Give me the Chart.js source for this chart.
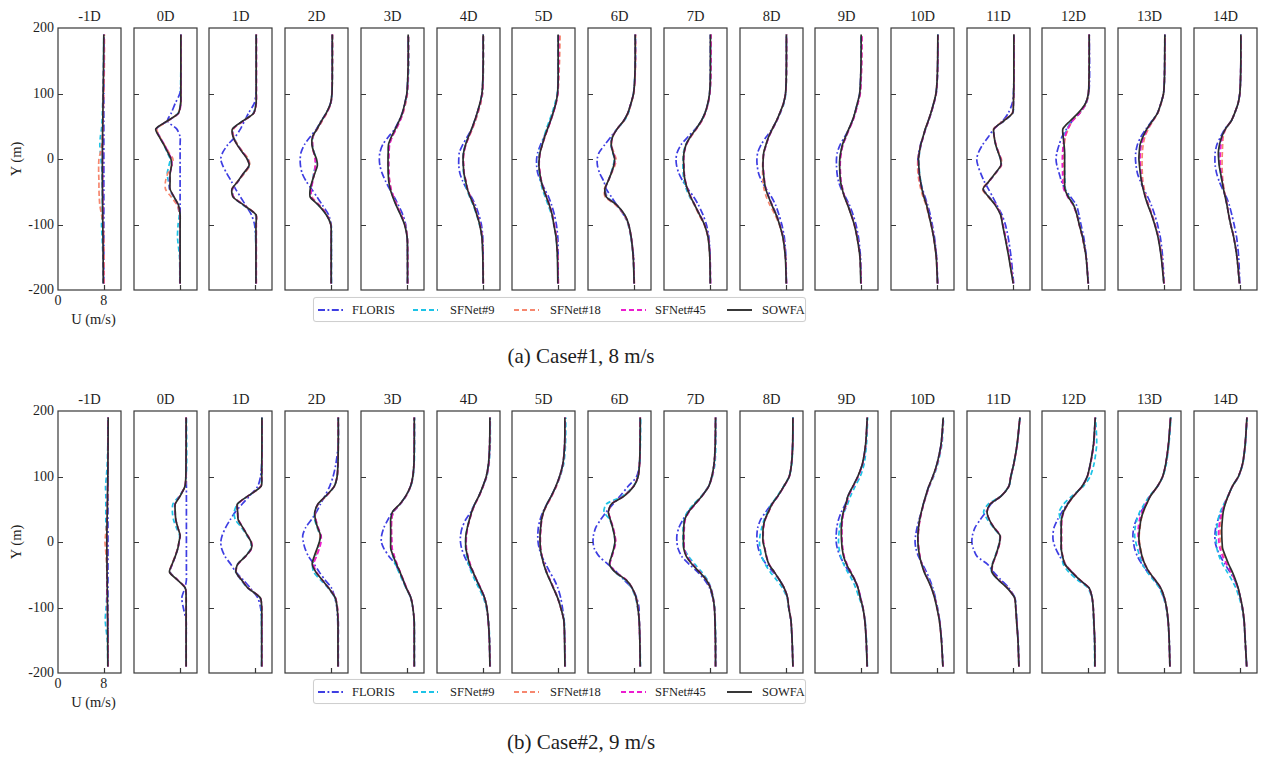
<!DOCTYPE html>
<html>
<head>
<meta charset="utf-8">
<title>Wake velocity profiles</title>
<script src="https://cdn.jsdelivr.net/npm/chart.js@4.4.1/dist/chart.umd.min.js"></script>
<style>
  html, body { margin: 0; padding: 0; background: #fff; }
  body { position: relative; width: 1261px; height: 759px; overflow: hidden;
         font-family: "Liberation Serif", "Times New Roman", serif; color: #1e1e1e; }
  canvas.panel { position: absolute; }
  .lbl { position: absolute; white-space: nowrap; line-height: 1; }
  .legend { position: absolute; box-sizing: border-box; border: 1px solid #cfcfcf; border-radius: 3px;
            background: #fff; box-shadow: 0 0 1px rgba(0,0,0,0.08); }
  .legend svg { position: absolute; }
  .legend span { position: absolute; font-size: 12.5px; line-height: 1; transform: translateY(-50%); }
</style>
</head>
<body>
<script>
// Lateral sample positions (m), shared by every profile
const Y_POS = [-190,-150,-120,-100,-85,-70,-58,-46,-34,-22,-10,0,10,22,34,46,58,70,85,100,120,150,190];

const STATIONS = ['-1D','0D','1D','2D','3D','4D','5D','6D','7D','8D','9D','10D','11D','12D','13D','14D'];
const SERIES_NAMES = ['FLORIS','SFNet#9','SFNet#18','SFNet#45','SOWFA'];
const CASE_TITLES = ['(a) Case#1, 8 m/s', '(b) Case#2, 9 m/s'];
const Y_TICKS = [-200,-100,0,100,200];
const X_TICKS = [0,8];

// ---- Case#1, 8 m/s : streamwise velocity U (m/s), one row per station ----
const c1_FLORIS = [
  [8,8,8,8,8,8,8,8,8,8,8,8,8,8,8,8,8,8,8,8,8,8,8],
  [8.05,8.05,8.05,8.05,8.05,8.05,8.05,8.05,8.05,8.05,8.05,8.05,8.05,8.05,8.05,7.45,5.85,6.5,7.2,8.0,8.2,8.2,8.2],
  [8.2,8.2,8.15,7.95,7.4,6.35,5.5,4.65,3.9,3.1,2.4,2.05,2.4,3.3,4.6,5.5,6.2,6.9,7.9,8.2,8.24,8.24,8.24],
  [8.1,8.1,8.1,8.05,7.6,6.5,5.6,4.65,3.7,3.0,2.7,2.65,2.8,3.4,4.4,5.5,6.3,7.2,7.95,8.2,8.25,8.25,8.25],
  [8.12,8.12,8.06,7.8,7.3,6.5,5.8,5.0,4.3,3.7,3.3,3.2,3.3,3.8,4.8,5.9,6.6,7.2,7.65,8.0,8.15,8.24,8.24],
  [8.06,8.06,8.0,7.75,7.3,6.7,6.0,5.2,4.5,4.0,3.8,3.8,3.9,4.5,5.3,6.05,6.55,7.0,7.5,7.85,8.0,8.06,8.06],
  [8.06,8.06,8.0,7.75,7.4,6.9,6.4,5.7,5.0,4.5,4.3,4.3,4.5,5.0,5.6,6.2,6.7,7.15,7.65,7.95,8.05,8.06,8.06],
  [8.06,7.95,7.55,7.05,6.2,5.0,4.1,3.2,2.75,2.05,1.65,1.6,1.95,2.95,4.0,5.1,6.2,6.95,7.5,7.95,8.15,8.24,8.24],
  [8.1,8.05,7.85,7.4,6.8,6.0,5.2,4.2,3.3,2.6,2.2,2.1,2.3,3.0,4.2,5.5,6.5,7.15,7.65,7.95,8.08,8.1,8.1],
  [8.1,8.02,7.75,7.3,6.8,6.2,5.5,4.6,3.8,3.25,3.0,2.95,3.1,3.7,4.6,5.6,6.35,6.95,7.6,7.95,8.06,8.1,8.1],
  [8.06,7.95,7.6,7.15,6.65,6.0,5.3,4.6,4.1,3.85,3.75,3.75,3.9,4.4,5.2,5.9,6.5,6.95,7.4,7.8,7.95,8.04,8.06],
  [8.15,7.95,7.6,7.2,6.85,6.4,5.95,5.5,5.15,4.9,4.75,4.7,4.85,5.15,5.6,6.0,6.5,6.95,7.45,7.85,8.05,8.15,8.18],
  [8.15,7.7,7.2,6.7,6.1,5.2,4.5,3.75,3.0,2.4,1.9,1.7,2.0,2.75,3.75,4.7,6.2,7.2,7.9,8.1,8.18,8.18,8.18],
  [8.1,7.75,7.3,6.8,6.45,6.0,5.0,4.0,3.4,3.0,2.6,2.45,2.6,3.0,3.5,4.3,5.3,6.5,7.6,8.15,8.3,8.3,8.25],
  [8.05,7.8,7.4,6.9,6.4,5.8,5.2,4.5,3.9,3.4,3.15,3.05,3.1,3.4,4.0,4.9,5.9,6.9,7.5,7.95,8.1,8.18,8.2],
  [8.0,7.8,7.45,7.0,6.6,6.15,5.65,5.0,4.4,3.95,3.7,3.65,3.7,4.0,4.65,5.4,6.5,7.1,7.7,8.0,8.12,8.18,8.18]
];
const c1_SFNet9 = [
  [7.9,7.85,7.7,7.6,7.7,7.75,7.75,7.75,7.7,7.7,7.6,7.5,7.4,7.3,7.4,7.6,7.7,7.75,7.8,7.85,7.9,7.95,8.0],
  [8.0,7.95,7.6,7.7,7.9,7.6,6.9,6.2,6.0,5.8,6.1,6.3,5.8,5.2,4.5,3.9,5.9,7.7,8.15,8.15,8.15,8.2,8.2],
  [8.2,8.2,8.15,8.15,8.1,5.9,4.3,4.1,5.1,6.1,7.1,6.8,5.9,5.0,4.3,4.2,5.9,7.7,8.2,8.24,8.24,8.24,8.24],
  [8.1,8.1,8.1,8.05,7.25,5.8,4.5,4.5,4.8,5.0,5.3,5.4,5.1,4.8,4.9,5.6,6.4,7.2,8.0,8.2,8.25,8.28,8.28],
  [8.15,8.15,8.1,7.65,6.95,6.15,5.6,5.15,4.9,4.8,4.8,4.8,4.8,4.9,5.4,6.1,6.75,7.3,7.75,8.1,8.25,8.35,8.3],
  [8.08,8.02,7.85,7.4,6.9,6.3,5.7,5.2,4.9,4.65,4.55,4.5,4.6,4.95,5.5,6.1,6.65,7.1,7.6,7.95,8.06,8.1,8.1],
  [8.05,7.95,7.7,7.3,6.9,6.3,5.8,5.3,5.0,4.8,4.65,4.65,4.8,5.2,5.6,6.0,6.5,7.0,7.5,7.9,8.05,8.1,8.1],
  [8.06,7.9,7.5,7.0,6.3,5.0,3.4,3.0,3.5,4.0,4.4,4.6,4.3,4.0,4.25,5.1,6.3,7.05,7.55,7.95,8.15,8.3,8.3],
  [8.08,8.02,7.75,7.1,6.2,5.3,4.5,3.9,3.5,3.35,3.3,3.3,3.4,3.8,4.6,5.6,6.5,7.15,7.7,8.0,8.15,8.2,8.2],
  [8.1,7.95,7.55,6.95,6.4,5.6,5.0,4.5,4.2,4.05,4.0,4.0,4.15,4.55,5.0,5.7,6.4,7.05,7.7,8.0,8.1,8.12,8.12],
  [8.03,7.88,7.38,6.9,6.35,5.75,5.2,4.8,4.5,4.35,4.3,4.35,4.5,4.85,5.4,5.95,6.55,7.0,7.45,7.85,8.0,8.1,8.1],
  [8.14,7.95,7.5,7.05,6.65,6.25,5.8,5.45,5.2,5.0,4.9,4.85,5.0,5.25,5.65,6.05,6.55,7.0,7.5,7.9,8.08,8.18,8.2],
  [8.1,7.35,6.7,6.25,5.9,5.0,3.9,2.9,3.9,4.95,5.95,5.85,5.45,5.0,4.75,4.7,6.45,8.0,8.12,8.15,8.2,8.2,8.2],
  [8.08,7.7,7.1,6.55,6.1,5.5,4.7,4.1,4.0,3.95,3.9,3.9,3.9,3.85,3.9,4.4,5.2,6.6,7.75,8.1,8.2,8.24,8.24],
  [8.02,7.6,7.05,6.45,5.9,5.3,4.85,4.5,4.2,4.0,3.85,3.8,3.85,4.0,4.45,5.1,6.0,6.9,7.5,7.95,8.1,8.15,8.18],
  [7.95,7.5,6.95,6.4,6.05,5.75,5.45,5.15,4.9,4.65,4.45,4.4,4.4,4.55,4.9,5.5,6.5,7.1,7.7,8.0,8.12,8.2,8.2]
];
const c1_SFNet18 = [
  [8.05,8.05,8.0,7.9,7.6,7.3,7.2,7.15,7.15,7.1,7.1,7.15,7.4,7.65,7.75,7.8,7.85,7.9,7.95,8.0,8.05,8.1,8.1],
  [8.05,8.05,8.0,8.0,8.0,7.5,6.5,5.5,5.5,5.9,6.6,6.8,6.1,5.3,4.5,4.0,5.9,7.7,8.15,8.2,8.2,8.2,8.2],
  [8.25,8.25,8.25,8.25,8.2,6.1,4.3,4.0,5.0,6.2,7.1,6.9,6.0,5.0,4.3,4.3,6.0,7.8,8.25,8.25,8.25,8.25,8.25],
  [8.08,8.08,8.08,8.0,7.3,6.0,4.7,4.5,4.8,5.1,5.3,5.3,5.0,4.8,4.9,5.7,6.5,7.3,8.0,8.2,8.25,8.3,8.3],
  [8.15,8.15,8.1,7.7,7.0,6.25,5.7,5.25,5.0,4.85,4.8,4.8,4.85,4.95,5.45,6.15,6.8,7.35,7.8,8.1,8.2,8.3,8.3],
  [8.1,8.05,7.9,7.5,7.0,6.45,5.85,5.35,5.05,4.75,4.65,4.6,4.7,5.05,5.6,6.2,6.7,7.15,7.65,7.95,8.06,8.1,8.1],
  [8.1,8.0,7.75,7.35,7.0,6.5,6.0,5.5,5.15,4.9,4.75,4.75,4.9,5.3,5.75,6.25,6.75,7.2,7.7,8.0,8.15,8.3,8.4],
  [8.1,7.92,7.55,7.05,6.3,4.8,3.0,2.85,3.5,4.1,4.7,4.9,4.5,4.1,4.3,5.1,6.25,7.0,7.55,8.0,8.2,8.3,8.3],
  [8.1,8.0,7.7,7.0,6.1,5.3,4.6,4.1,3.7,3.5,3.45,3.4,3.5,3.9,4.7,5.7,6.6,7.2,7.7,8.0,8.15,8.2,8.2],
  [8.1,7.95,7.5,6.85,6.1,5.2,4.6,4.2,4.0,3.95,3.95,4.0,4.15,4.55,5.0,5.65,6.35,6.95,7.6,7.95,8.1,8.12,8.12],
  [8.05,7.85,7.35,6.85,6.3,5.7,5.15,4.75,4.5,4.4,4.35,4.4,4.55,4.85,5.4,5.95,6.55,7.0,7.5,7.9,8.05,8.15,8.2],
  [8.12,7.9,7.45,7.0,6.55,6.1,5.6,5.2,4.9,4.7,4.65,4.7,4.9,5.2,5.6,6.0,6.5,6.95,7.45,7.85,8.05,8.15,8.18],
  [8.1,7.35,6.7,6.25,5.9,5.0,3.7,2.7,3.8,4.95,6.0,6.0,5.55,5.05,4.75,4.65,6.3,7.9,8.1,8.15,8.2,8.2,8.2],
  [8.08,7.7,7.05,6.5,6.05,5.45,4.6,4.0,3.85,3.8,3.8,3.8,3.85,3.9,4.1,4.6,5.3,6.6,7.7,8.1,8.2,8.24,8.24],
  [8.05,7.65,7.1,6.5,5.95,5.35,4.9,4.6,4.35,4.25,4.2,4.2,4.25,4.4,4.7,5.3,6.1,6.95,7.55,7.95,8.1,8.18,8.2],
  [7.95,7.5,6.95,6.4,6.05,5.8,5.5,5.25,5.05,4.95,4.9,4.9,4.95,5.0,5.1,5.55,6.5,7.1,7.7,8.0,8.12,8.2,8.2]
];
const c1_SFNet45 = [
  [7.95,7.92,7.9,7.88,7.85,7.83,7.82,7.8,7.8,7.8,7.78,7.78,7.78,7.8,7.8,7.82,7.85,7.87,7.9,7.92,7.95,8.0,8.05],
  [8.05,8.05,8.05,8.05,8.05,7.7,7.0,6.25,6.2,6.3,6.6,6.55,6.0,5.3,4.5,3.9,5.85,7.8,8.2,8.2,8.2,8.2,8.2],
  [8.25,8.25,8.25,8.25,8.2,6.0,4.3,4.1,5.1,6.0,7.0,6.7,5.9,4.9,4.2,4.2,6.0,7.8,8.25,8.28,8.28,8.28,8.28],
  [8.06,8.06,8.06,8.0,7.3,5.9,4.6,4.6,4.85,5.1,5.3,5.25,5.0,4.8,4.85,5.6,6.4,7.25,8.0,8.2,8.25,8.27,8.27],
  [8.15,8.15,8.08,7.65,7.0,6.2,5.7,5.25,5.0,4.9,4.85,4.85,4.9,5.0,5.45,6.15,6.8,7.3,7.7,8.05,8.2,8.27,8.27],
  [8.08,8.03,7.88,7.5,7.0,6.45,5.85,5.35,5.05,4.75,4.65,4.6,4.7,5.05,5.55,6.1,6.6,7.05,7.55,7.9,8.03,8.08,8.08],
  [8.08,8.0,7.75,7.4,7.05,6.55,6.05,5.55,5.15,4.9,4.75,4.78,4.9,5.3,5.75,6.25,6.75,7.2,7.7,8.0,8.1,8.15,8.15],
  [8.08,7.92,7.55,7.1,6.35,5.0,3.25,3.0,3.5,4.05,4.55,4.7,4.4,4.05,4.3,5.1,6.2,6.95,7.5,7.95,8.18,8.28,8.28],
  [8.12,8.05,7.75,7.1,6.25,5.4,4.7,4.15,3.75,3.55,3.5,3.45,3.55,3.9,4.65,5.65,6.55,7.2,7.7,8.0,8.15,8.2,8.2],
  [8.12,7.95,7.55,6.95,6.35,5.6,5.05,4.55,4.3,4.15,4.05,4.05,4.2,4.6,5.05,5.7,6.4,7.0,7.6,7.95,8.08,8.12,8.12],
  [8.06,7.88,7.4,6.9,6.35,5.75,5.2,4.85,4.55,4.45,4.4,4.45,4.6,4.9,5.45,6.0,6.6,7.05,7.5,7.9,8.05,8.15,8.2],
  [8.15,7.95,7.5,7.05,6.65,6.25,5.8,5.4,5.1,4.9,4.8,4.8,4.95,5.25,5.65,6.05,6.55,7.0,7.5,7.9,8.08,8.18,8.2],
  [8.1,7.4,6.75,6.3,5.9,5.0,3.85,2.85,3.9,4.95,5.95,5.9,5.5,5.05,4.75,4.75,6.4,7.95,8.1,8.18,8.22,8.22,8.22],
  [8.08,7.72,7.1,6.5,6.1,5.4,4.5,3.8,3.6,3.6,3.55,3.55,3.6,3.7,4.0,4.5,5.3,6.6,7.7,8.1,8.2,8.24,8.24],
  [8.02,7.6,7.05,6.45,5.9,5.25,4.8,4.45,4.15,4.0,3.9,3.85,3.9,4.05,4.5,5.15,6.05,6.9,7.5,7.95,8.1,8.15,8.18],
  [7.95,7.52,6.97,6.42,6.07,5.77,5.47,5.17,4.95,4.75,4.6,4.55,4.6,4.7,4.95,5.5,6.5,7.1,7.7,8.0,8.12,8.18,8.18]
];
const c1_SOWFA = [
  [7.9,7.88,7.85,7.82,7.8,7.78,7.77,7.76,7.75,7.75,7.75,7.75,7.75,7.76,7.78,7.8,7.82,7.84,7.86,7.88,7.92,7.96,8.0],
  [8.05,8.05,8.05,8.05,8.05,7.75,7.0,6.3,6.3,6.3,6.55,6.45,5.9,5.2,4.4,3.8,5.8,7.75,8.15,8.18,8.18,8.18,8.18],
  [8.2,8.2,8.2,8.2,8.2,6.0,4.2,4.0,5.05,6.0,7.0,6.65,5.85,4.9,4.2,4.1,5.9,7.8,8.22,8.24,8.24,8.24,8.24],
  [8.06,8.06,8.06,8.0,7.2,5.8,4.4,4.4,4.75,5.2,5.65,5.5,5.05,4.7,4.8,5.6,6.35,7.2,7.95,8.2,8.25,8.25,8.25],
  [8.12,8.12,8.06,7.6,6.9,6.1,5.55,5.1,4.85,4.75,4.72,4.72,4.75,4.8,5.3,6.0,6.65,7.2,7.65,8.0,8.15,8.24,8.24],
  [8.06,8.0,7.85,7.45,6.95,6.4,5.8,5.3,5.0,4.7,4.6,4.55,4.65,5.0,5.5,6.05,6.55,7.0,7.5,7.85,8.0,8.06,8.06],
  [8.0,7.93,7.7,7.3,7.0,6.5,6.0,5.5,5.1,4.85,4.7,4.75,4.9,5.3,5.7,6.2,6.7,7.15,7.65,7.95,8.05,8.06,8.06],
  [8.06,7.9,7.55,7.1,6.4,5.0,3.2,2.95,3.5,4.05,4.5,4.65,4.35,4.05,4.3,5.1,6.2,6.95,7.5,7.95,8.15,8.24,8.24],
  [8.08,8.0,7.7,7.05,6.2,5.35,4.65,4.1,3.7,3.5,3.45,3.4,3.5,3.85,4.6,5.6,6.5,7.15,7.65,7.95,8.08,8.1,8.1],
  [8.08,7.92,7.5,6.9,6.3,5.55,5.0,4.5,4.25,4.1,4.0,4.05,4.15,4.55,5.0,5.65,6.35,6.95,7.6,7.95,8.06,8.1,8.1],
  [8.0,7.85,7.35,6.85,6.3,5.7,5.15,4.75,4.45,4.35,4.3,4.33,4.5,4.8,5.35,5.9,6.5,6.95,7.4,7.8,7.95,8.04,8.06],
  [8.12,7.9,7.45,7.0,6.6,6.2,5.75,5.4,5.15,4.95,4.85,4.8,4.95,5.2,5.6,6.0,6.5,6.95,7.45,7.85,8.05,8.15,8.18],
  [8.06,7.3,6.65,6.2,5.85,4.9,3.8,2.8,3.85,4.9,5.9,5.85,5.45,5.0,4.75,4.7,6.4,7.95,8.1,8.15,8.18,8.18,8.18],
  [8.06,7.7,7.1,6.5,6.1,5.5,4.6,4.0,3.95,3.95,3.95,3.95,3.95,3.85,3.7,3.65,4.9,6.3,7.6,8.1,8.2,8.24,8.24],
  [8.0,7.55,7.0,6.4,5.85,5.2,4.75,4.4,4.1,3.9,3.75,3.65,3.7,3.85,4.35,5.05,6.0,6.9,7.5,7.95,8.1,8.15,8.18],
  [7.94,7.5,6.95,6.4,6.05,5.75,5.45,5.15,4.9,4.65,4.4,4.3,4.25,4.45,4.85,5.5,6.5,7.1,7.7,8.0,8.12,8.18,8.18]
];

// ---- Case#2, 9 m/s ----
const c2_FLORIS = [
  [8.72,8.72,8.72,8.72,8.72,8.72,8.72,8.72,8.72,8.72,8.72,8.72,8.72,8.72,8.72,8.72,8.72,8.72,8.72,8.72,8.72,8.72,8.72],
  [9.1,9.1,9.1,8.6,8.35,8.9,9.15,9.15,9.15,9.15,9.15,9.15,9.15,9.15,9.15,9.15,9.15,9.15,9.15,9.12,9.12,9.1,9.1],
  [9.2,9.2,9.2,9.0,8.5,7.2,6.0,4.7,3.8,2.8,2.2,2.06,2.3,2.9,3.7,4.6,5.8,7.06,8.5,9.0,9.2,9.24,9.24],
  [9.25,9.25,9.2,9.05,8.7,8.1,7.0,6.0,5.1,4.1,3.5,3.2,3.1,3.6,4.6,5.5,6.2,6.95,7.8,8.4,8.9,9.3,9.3],
  [9.3,9.3,9.28,9.05,8.7,7.9,7.35,6.7,6.0,4.9,4.0,3.55,3.6,4.0,4.7,5.5,6.8,7.8,8.65,9.05,9.25,9.3,9.3],
  [9.24,9.15,8.95,8.7,8.3,7.55,6.9,6.2,5.5,4.8,4.3,4.1,4.1,4.4,5.0,5.9,6.6,7.3,8.0,8.6,9.0,9.2,9.24],
  [9.24,9.2,9.1,8.8,8.5,8.0,7.4,6.6,5.9,5.2,4.75,4.55,4.5,4.6,4.9,5.4,6.1,6.85,7.65,8.3,8.9,9.2,9.24],
  [9.12,9.05,8.94,8.9,8.5,7.65,6.3,5.0,3.5,1.95,1.1,0.88,0.95,1.35,2.2,3.2,4.4,5.6,7.0,8.5,9.0,9.1,9.12],
  [9.0,8.98,8.9,8.8,8.5,7.95,7.1,5.9,4.4,3.1,2.45,2.25,2.25,2.6,3.3,4.2,5.4,6.6,7.8,8.35,8.75,8.95,9.0],
  [9.24,9.1,8.9,8.5,8.3,7.7,6.9,5.8,4.6,3.7,3.2,3.0,2.95,3.1,3.6,4.5,5.5,6.6,7.65,8.6,9.0,9.2,9.24],
  [9.12,8.94,8.7,8.35,7.95,7.5,6.9,6.0,5.1,4.4,3.9,3.7,3.7,3.8,4.1,4.6,5.3,5.75,6.6,7.47,8.3,8.85,9.12],
  [9.06,8.82,8.5,8.1,7.75,7.3,6.8,6.2,5.5,4.8,4.35,4.2,4.3,4.55,4.9,5.3,5.65,6.05,6.6,7.3,8.05,8.75,9.12],
  [9.06,8.9,8.7,8.55,8.35,7.3,5.95,4.65,3.6,1.75,1.1,0.85,0.95,1.4,2.3,3.3,4.2,5.95,7.3,7.65,8.18,8.76,9.24],
  [9.24,9.2,9.05,8.94,8.75,8.2,6.6,5.2,4.0,3.1,2.4,2.0,1.9,2.1,2.7,3.5,4.4,5.5,7.0,7.9,8.45,9.0,9.3],
  [9.06,8.94,8.75,8.45,8.0,7.3,6.4,5.2,4.2,3.4,2.9,2.7,2.6,2.75,3.2,4.0,4.9,5.65,6.9,7.8,8.35,8.82,9.18],
  [9.2,8.94,8.75,8.45,8.1,7.65,7.1,6.3,5.4,4.6,4.0,3.7,3.65,3.8,4.2,4.8,5.4,5.95,6.7,7.75,8.5,8.94,9.24]
];
const c2_SFNet9 = [
  [8.7,8.6,8.25,8.4,8.5,8.55,8.55,8.55,8.5,8.5,8.5,8.5,8.45,8.4,8.35,8.35,8.35,8.35,8.3,8.45,8.6,8.7,8.75],
  [9.1,9.1,9.05,9.1,9.1,8.95,7.6,6.3,6.7,7.2,7.65,7.85,7.95,7.4,6.9,6.7,6.8,7.9,8.9,9.1,9.2,9.2,9.15],
  [9.2,9.2,9.15,9.15,8.9,6.7,5.6,4.65,5.0,6.3,7.3,7.3,6.6,5.7,4.6,4.4,5.0,6.8,9.0,9.2,9.22,9.24,9.24],
  [9.3,9.3,9.3,9.1,8.7,7.5,6.2,5.0,4.8,5.3,5.7,6.0,6.1,5.6,5.2,5.2,5.8,7.2,8.6,9.1,9.25,9.3,9.3],
  [9.32,9.32,9.3,9.05,8.65,7.85,7.2,6.6,6.0,5.6,5.25,5.2,5.2,5.25,5.3,5.7,6.9,7.85,8.7,9.1,9.3,9.35,9.35],
  [9.3,9.2,9.0,8.6,8.1,7.3,6.6,6.0,5.5,5.2,5.0,5.0,5.05,5.3,5.65,6.05,6.6,7.3,8.05,8.7,9.1,9.3,9.3],
  [9.3,9.25,9.1,8.55,8.0,7.25,6.6,6.0,5.55,5.2,4.95,4.9,4.9,5.0,5.15,5.5,6.1,6.85,7.7,8.4,9.05,9.35,9.4],
  [9.15,9.1,8.95,8.65,8.3,7.6,6.5,4.7,3.8,4.1,4.5,4.7,4.6,4.3,3.8,2.8,3.2,6.0,7.9,8.75,9.0,9.15,9.2],
  [9.05,9.05,8.95,8.85,8.6,8.2,7.6,6.6,5.4,4.3,3.5,3.3,3.3,3.35,3.5,4.1,5.2,6.5,7.75,8.45,8.9,9.05,9.05],
  [9.25,9.1,8.85,8.5,8.2,7.4,6.4,5.3,4.4,3.8,3.5,3.4,3.5,3.8,4.2,4.8,5.5,6.5,7.6,8.6,9.05,9.22,9.25],
  [9.15,9.0,8.75,8.3,7.7,7.1,6.5,5.7,5.0,4.5,4.2,4.1,4.15,4.3,4.6,5.1,5.7,6.2,7.0,7.9,8.6,9.0,9.2],
  [9.1,8.85,8.5,8.1,7.7,7.2,6.6,5.95,5.4,5.0,4.8,4.7,4.7,4.8,5.0,5.35,5.7,6.1,6.7,7.45,8.2,8.9,9.2],
  [9.1,8.95,8.7,8.55,8.35,7.05,5.5,4.3,4.4,4.9,5.35,5.65,5.7,4.6,3.6,2.9,3.7,5.9,7.3,7.7,8.2,8.8,9.24],
  [9.2,9.15,9.0,8.9,8.7,8.0,6.2,4.7,3.7,3.5,3.3,3.3,3.3,3.3,3.2,3.0,3.8,5.2,7.2,8.4,9.1,9.55,9.35],
  [9.1,8.95,8.72,8.4,7.95,7.2,6.2,5.1,4.3,3.8,3.4,3.1,2.9,3.0,3.3,3.8,4.6,5.5,6.9,7.85,8.45,8.9,9.25],
  [9.2,8.95,8.7,8.35,7.9,7.3,6.6,5.8,5.0,4.4,4.0,3.9,3.9,4.0,4.2,4.6,5.2,5.9,6.7,7.8,8.55,9.0,9.25]
];
const c2_SFNet18 = [
  [8.75,8.75,8.7,8.65,8.6,8.6,8.6,8.55,8.5,8.4,8.3,8.2,8.3,8.45,8.55,8.6,8.65,8.7,8.72,8.72,8.74,8.75,8.76],
  [9.1,9.1,9.1,9.1,9.1,8.9,7.6,6.25,6.6,7.15,7.6,7.85,8.05,7.65,7.3,7.2,7.2,8.0,8.9,9.05,9.1,9.1,9.1],
  [9.22,9.22,9.22,9.22,8.95,6.8,5.75,4.75,5.05,6.35,7.4,7.4,6.75,5.9,5.1,5.0,5.0,6.8,9.05,9.22,9.24,9.25,9.25],
  [9.28,9.28,9.28,9.15,8.8,7.6,6.5,5.4,4.9,5.3,5.8,6.1,6.1,5.7,5.4,5.3,5.8,7.2,8.6,9.1,9.25,9.3,9.3],
  [9.3,9.3,9.28,9.05,8.7,7.95,7.4,6.85,6.3,5.8,5.4,5.3,5.3,5.3,5.35,5.65,6.85,7.85,8.65,9.05,9.25,9.3,9.3],
  [9.25,9.15,8.95,8.7,8.3,7.6,6.95,6.35,5.8,5.4,5.1,5.05,5.1,5.35,5.7,6.1,6.65,7.35,8.05,8.65,9.05,9.2,9.25],
  [9.25,9.2,9.05,8.5,7.95,7.25,6.65,6.05,5.6,5.25,5.0,4.95,4.95,5.05,5.2,5.55,6.2,6.95,7.75,8.35,8.9,9.2,9.25],
  [9.12,9.05,8.94,8.7,8.4,7.7,6.7,4.8,3.8,4.15,4.55,4.8,4.7,4.35,3.95,3.6,4.1,6.2,7.95,8.75,9.0,9.1,9.12],
  [9.0,8.98,8.9,8.8,8.55,8.1,7.4,6.25,5.0,3.95,3.5,3.45,3.45,3.5,3.65,4.35,5.45,6.6,7.8,8.4,8.78,8.96,9.0],
  [9.24,9.1,8.9,8.55,8.3,7.7,6.9,6.0,5.1,4.6,4.3,4.1,4.05,4.1,4.4,5.0,5.65,6.6,7.65,8.6,9.0,9.2,9.24],
  [9.12,8.95,8.7,8.35,7.9,7.5,6.95,6.25,5.55,5.05,4.8,4.7,4.65,4.65,4.75,5.0,5.45,5.8,6.65,7.5,8.3,8.85,9.12],
  [9.06,8.8,8.45,8.05,7.65,7.1,6.5,5.9,5.4,5.05,4.85,4.75,4.75,4.85,5.05,5.35,5.7,6.1,6.65,7.35,8.1,8.8,9.12],
  [9.06,8.9,8.65,8.5,8.3,7.05,5.55,4.4,4.5,5.0,5.45,5.75,5.8,4.75,3.9,3.5,4.05,5.95,7.3,7.65,8.2,8.76,9.24],
  [9.24,9.2,9.05,8.94,8.75,8.2,6.65,5.3,4.1,3.65,3.4,3.4,3.4,3.4,3.45,3.8,4.55,5.55,7.05,7.95,8.5,9.05,9.3],
  [9.06,8.94,8.75,8.47,8.1,7.45,6.5,5.5,4.75,4.25,3.95,3.75,3.7,3.85,4.05,4.45,5.0,5.65,6.9,7.8,8.35,8.82,9.18],
  [9.2,8.94,8.75,8.45,8.1,7.65,7.15,6.5,5.8,5.2,4.8,4.6,4.55,4.6,4.75,5.0,5.4,5.95,6.7,7.75,8.5,8.94,9.24]
];
const c2_SFNet45 = [
  [8.72,8.7,8.66,8.6,8.55,8.55,8.55,8.55,8.55,8.55,8.55,8.55,8.55,8.55,8.55,8.57,8.6,8.62,8.65,8.68,8.7,8.72,8.75],
  [9.12,9.12,9.12,9.12,9.12,9.0,7.65,6.25,6.7,7.2,7.65,7.9,8.05,7.65,7.3,7.15,7.15,8.0,8.9,9.05,9.1,9.12,9.12],
  [9.22,9.22,9.22,9.22,8.95,6.8,5.7,4.7,5.05,6.4,7.45,7.4,6.75,5.95,5.15,5.0,5.0,6.8,9.05,9.22,9.24,9.25,9.25],
  [9.3,9.3,9.3,9.15,8.8,7.6,6.5,5.5,5.0,5.5,6.0,6.3,6.3,5.8,5.4,5.25,5.75,7.15,8.6,9.1,9.25,9.3,9.3],
  [9.3,9.3,9.28,9.07,8.72,7.95,7.4,6.85,6.3,5.85,5.45,5.4,5.35,5.3,5.35,5.65,6.85,7.85,8.65,9.05,9.25,9.3,9.3],
  [9.25,9.15,8.95,8.7,8.3,7.6,6.95,6.35,5.8,5.4,5.15,5.1,5.15,5.35,5.7,6.1,6.65,7.35,8.05,8.65,9.05,9.2,9.25],
  [9.25,9.2,9.05,8.5,7.95,7.25,6.65,6.05,5.6,5.25,5.0,4.95,4.95,5.05,5.2,5.5,6.15,6.9,7.7,8.35,8.9,9.2,9.25],
  [9.12,9.05,8.94,8.7,8.4,7.7,6.7,4.85,3.85,4.2,4.6,4.85,4.7,4.4,3.95,3.6,4.1,6.25,7.95,8.75,9.0,9.1,9.12],
  [9.0,8.98,8.9,8.8,8.58,8.15,7.45,6.3,5.05,4.0,3.55,3.5,3.5,3.55,3.7,4.4,5.5,6.65,7.8,8.4,8.78,8.96,9.0],
  [9.24,9.1,8.9,8.55,8.3,7.7,6.9,6.0,5.1,4.65,4.35,4.1,4.05,4.1,4.4,5.0,5.65,6.65,7.7,8.6,9.0,9.2,9.24],
  [9.12,8.95,8.72,8.38,7.95,7.55,7.0,6.3,5.6,5.1,4.85,4.75,4.7,4.7,4.8,5.05,5.5,5.85,6.7,7.55,8.35,8.88,9.12],
  [9.08,8.82,8.48,8.05,7.65,7.1,6.5,5.9,5.4,5.05,4.85,4.75,4.75,4.85,5.05,5.35,5.7,6.1,6.65,7.35,8.1,8.8,9.14],
  [9.08,8.92,8.68,8.52,8.32,7.05,5.55,4.4,4.5,5.0,5.45,5.75,5.8,4.75,3.9,3.5,4.05,5.95,7.3,7.65,8.2,8.78,9.24],
  [9.25,9.2,9.05,8.95,8.75,8.2,6.6,5.25,4.05,3.6,3.4,3.4,3.4,3.4,3.45,3.8,4.5,5.5,7.0,7.9,8.5,9.05,9.3],
  [9.06,8.94,8.75,8.47,8.1,7.45,6.5,5.45,4.65,4.1,3.8,3.6,3.5,3.55,3.75,4.2,4.85,5.6,6.9,7.8,8.35,8.82,9.18],
  [9.2,8.94,8.75,8.45,8.1,7.65,7.15,6.5,5.7,5.0,4.55,4.35,4.3,4.35,4.55,4.9,5.35,5.95,6.7,7.75,8.5,8.94,9.24]
];
const c2_SOWFA = [
  [8.7,8.68,8.66,8.64,8.62,8.6,8.58,8.56,8.55,8.54,8.53,8.52,8.53,8.55,8.57,8.6,8.62,8.64,8.67,8.7,8.72,8.74,8.76],
  [9.1,9.1,9.1,9.1,9.1,8.95,7.6,6.2,6.65,7.2,7.65,7.85,8.05,7.65,7.3,7.2,7.2,8.05,8.9,9.05,9.08,9.1,9.1],
  [9.2,9.2,9.2,9.2,8.95,6.76,5.7,4.7,5.0,6.35,7.4,7.35,6.7,5.9,5.1,5.0,4.95,6.76,9.1,9.2,9.22,9.24,9.24],
  [9.25,9.25,9.25,9.1,8.76,7.6,6.5,5.4,4.75,5.1,5.6,6.0,6.2,5.7,5.3,5.2,5.75,7.1,8.6,9.1,9.25,9.3,9.3],
  [9.3,9.3,9.28,9.05,8.7,7.9,7.35,6.8,6.2,5.65,5.2,5.18,5.18,5.18,5.18,5.5,6.8,7.8,8.65,9.05,9.25,9.3,9.3],
  [9.24,9.15,8.95,8.7,8.3,7.55,6.9,6.3,5.7,5.35,5.05,5.0,5.05,5.3,5.65,6.05,6.6,7.3,8.0,8.6,9.0,9.2,9.24],
  [9.24,9.18,9.05,8.5,7.95,7.2,6.6,6.0,5.55,5.2,4.95,4.9,4.9,5.0,5.15,5.5,6.1,6.85,7.65,8.3,8.9,9.2,9.24],
  [9.12,9.05,8.94,8.7,8.4,7.7,6.65,4.75,3.75,4.1,4.5,4.7,4.6,4.3,3.9,3.55,4.1,6.3,8.0,8.75,9.0,9.1,9.12],
  [9.0,8.98,8.9,8.8,8.55,8.1,7.4,6.2,4.9,3.9,3.45,3.4,3.4,3.45,3.6,4.3,5.4,6.6,7.8,8.35,8.75,8.95,9.0],
  [9.24,9.1,8.9,8.5,8.3,7.7,6.9,6.0,5.05,4.6,4.3,4.02,4.0,4.05,4.35,4.95,5.6,6.6,7.65,8.6,9.0,9.2,9.24],
  [9.1,8.94,8.7,8.35,7.9,7.5,6.95,6.2,5.5,5.0,4.75,4.65,4.6,4.6,4.7,4.95,5.4,5.75,6.6,7.47,8.3,8.85,9.12],
  [9.06,8.8,8.45,8.0,7.6,7.05,6.45,5.8,5.35,5.0,4.8,4.7,4.7,4.8,5.0,5.3,5.65,6.05,6.6,7.3,8.05,8.75,9.12],
  [9.06,8.9,8.65,8.5,8.3,7.0,5.5,4.35,4.45,4.95,5.4,5.7,5.76,4.7,3.9,3.5,4.05,5.95,7.3,7.65,8.18,8.76,9.24],
  [9.24,9.2,9.05,8.94,8.75,8.2,6.6,5.2,4.0,3.6,3.35,3.35,3.35,3.35,3.4,3.75,4.5,5.5,7.0,7.9,8.45,9.0,9.3],
  [9.06,8.94,8.75,8.47,8.1,7.45,6.5,5.45,4.7,4.2,3.9,3.7,3.65,3.8,4.0,4.4,5.0,5.65,6.9,7.8,8.35,8.82,9.18],
  [9.2,8.94,8.75,8.45,8.1,7.7,7.25,6.7,6.05,5.5,5.0,4.9,4.85,4.85,4.95,5.1,5.45,5.95,6.7,7.75,8.5,8.94,9.24]
];

const CASES = [
  [c1_FLORIS, c1_SFNet9, c1_SFNet18, c1_SFNet45, c1_SOWFA],
  [c2_FLORIS, c2_SFNet9, c2_SFNet18, c2_SFNet45, c2_SOWFA]
];

// ---- drawing styles ----
const SERIES_STYLE = [
  { color: '#3e3ee2', dash: [7, 2.5, 1.8, 2.5], width: 1.7, order: 4 },
  { color: '#1dc3e6', dash: [5, 3], width: 1.7, order: 3 },
  { color: '#f6876f', dash: [5, 3], width: 1.7, order: 2 },
  { color: '#ec1ccf', dash: [5, 3], width: 1.7, order: 1 },
  { color: '#2e2e2e', dash: [], width: 1.7, order: 0 }
];

// ---- page layout ----
const LAYOUT = {
  left0: 58, pitch: 75.73, width: 63, height: 262, pad: 2,
  rowTops: [28, 411],
  legend: { left: 313, tops: [297, 679], width: 493, height: 25,
            lineX: [4, 99, 200, 307, 413], textX: [38, 136, 236, 341, 448], lineLen: 25 },
  captionX: 581, captionY: [356, 742]
};

Chart.defaults.font.family = '"Liberation Serif", "Times New Roman", serif';

// frame around each panel plus inward ticks, positioned through the panel's scales
const frameTicks = {
  id: 'frameTicks',
  afterDatasetsDraw(chart) {
    const { ctx, chartArea: a, scales } = chart;
    ctx.save();
    ctx.strokeStyle = '#383838';
    ctx.lineWidth = 1.2;
    ctx.strokeRect(a.left, a.top, a.right - a.left, a.bottom - a.top);
    ctx.beginPath();
    for (const v of Y_TICKS) {
      if (v <= scales.y.min || v >= scales.y.max) continue;
      const py = Math.round(scales.y.getPixelForValue(v)) + 0.5;
      ctx.moveTo(a.left, py); ctx.lineTo(a.left + 5, py);
    }
    for (const v of X_TICKS) {
      if (v <= scales.x.min || v >= scales.x.max) continue;
      const px = Math.round(scales.x.getPixelForValue(v)) + 0.5;
      ctx.moveTo(px, a.bottom); ctx.lineTo(px, a.bottom - 5);
    }
    ctx.stroke();
    ctx.restore();
  }
};

function addText(text, x, y, size, opts = {}) {
  const d = document.createElement('div');
  d.className = 'lbl';
  d.textContent = text;
  d.style.fontSize = size + 'px';
  d.style.left = x + 'px';
  d.style.top = y + 'px';
  let tf = opts.align === 'right' ? 'translate(-100%,-50%)' : 'translate(-50%,-50%)';
  if (opts.rotate) tf += ' rotate(-90deg)';
  d.style.transform = tf;
  document.body.appendChild(d);
  return d;
}

function makePanel(row, i) {
  const L = LAYOUT, pad = L.pad;
  const left = Math.round(L.left0 + i * L.pitch);
  const top = L.rowTops[row];
  const cv = document.createElement('canvas');
  cv.className = 'panel';
  cv.width = L.width + 2 * pad;
  cv.height = L.height + 2 * pad;
  cv.style.width = cv.width + 'px';
  cv.style.height = cv.height + 'px';
  cv.style.left = (left - pad) + 'px';
  cv.style.top = (top - pad) + 'px';
  document.body.appendChild(cv);

  const series = CASES[row];
  const datasets = series.map((s, k) => ({
    label: SERIES_NAMES[k],
    data: Y_POS.map((y, j) => ({ x: s[i][j], y })),
    borderColor: SERIES_STYLE[k].color,
    borderDash: SERIES_STYLE[k].dash,
    borderWidth: SERIES_STYLE[k].width,
    order: SERIES_STYLE[k].order,
    pointRadius: 0,
    fill: false,
    tension: 0.25
  }));

  const chart = new Chart(cv, {
    type: 'line',
    data: { datasets },
    options: {
      responsive: false,
      animation: false,
      devicePixelRatio: 1,
      events: [],
      indexAxis: 'y',
      layout: { padding: pad },
      scales: {
        x: { type: 'linear', min: 0, max: 11, display: false },
        y: { type: 'linear', min: -200, max: 200, display: false }
      },
      plugins: { legend: { display: false }, tooltip: { enabled: false } }
    },
    plugins: [frameTicks]
  });

  // station title above the panel
  addText(STATIONS[i], left + L.width / 2, top - 12, 14.5);

  // axis labels only on the first panel of each row
  if (i === 0) {
    const ox = left - pad, oy = top - pad;
    const a = chart.chartArea;
    for (const v of Y_TICKS) {
      addText(String(v), ox + a.left - 4, oy + chart.scales.y.getPixelForValue(v), 14, { align: 'right' });
    }
    for (const v of X_TICKS) {
      addText(String(v), ox + chart.scales.x.getPixelForValue(v), oy + a.bottom + 10.5, 14);
    }
    addText('U (m/s)', ox + chart.scales.x.getPixelForValue(6.2), oy + a.bottom + 29, 14.5);
    addText('Y (m)', 15.5, oy + chart.scales.y.getPixelForValue(0), 14.5, { rotate: true });
  }
  return chart;
}

function makeLegend(row) {
  const G = LAYOUT.legend;
  const box = document.createElement('div');
  box.className = 'legend';
  box.style.left = G.left + 'px';
  box.style.top = G.tops[row] + 'px';
  box.style.width = G.width + 'px';
  box.style.height = G.height + 'px';
  const mid = G.height / 2 - 1;
  SERIES_NAMES.forEach((name, k) => {
    const st = SERIES_STYLE[k];
    const svgNS = 'http://www.w3.org/2000/svg';
    const svg = document.createElementNS(svgNS, 'svg');
    svg.setAttribute('width', G.lineLen);
    svg.setAttribute('height', 6);
    svg.style.left = G.lineX[k] + 'px';
    svg.style.top = (mid - 3) + 'px';
    const ln = document.createElementNS(svgNS, 'line');
    ln.setAttribute('x1', 0); ln.setAttribute('x2', G.lineLen);
    ln.setAttribute('y1', 3); ln.setAttribute('y2', 3);
    ln.setAttribute('stroke', st.color);
    ln.setAttribute('stroke-width', st.width + 0.2);
    if (st.dash.length) ln.setAttribute('stroke-dasharray', st.dash.join(' '));
    svg.appendChild(ln);
    box.appendChild(svg);
    const sp = document.createElement('span');
    sp.textContent = name;
    sp.style.left = G.textX[k] + 'px';
    sp.style.top = mid + 'px';
    box.appendChild(sp);
  });
  document.body.appendChild(box);
}

for (let row = 0; row < 2; row++) {
  for (let i = 0; i < STATIONS.length; i++) makePanel(row, i);
  makeLegend(row);
  addText(CASE_TITLES[row], LAYOUT.captionX, LAYOUT.captionY[row], 21);
}
</script>
</body>
</html>
